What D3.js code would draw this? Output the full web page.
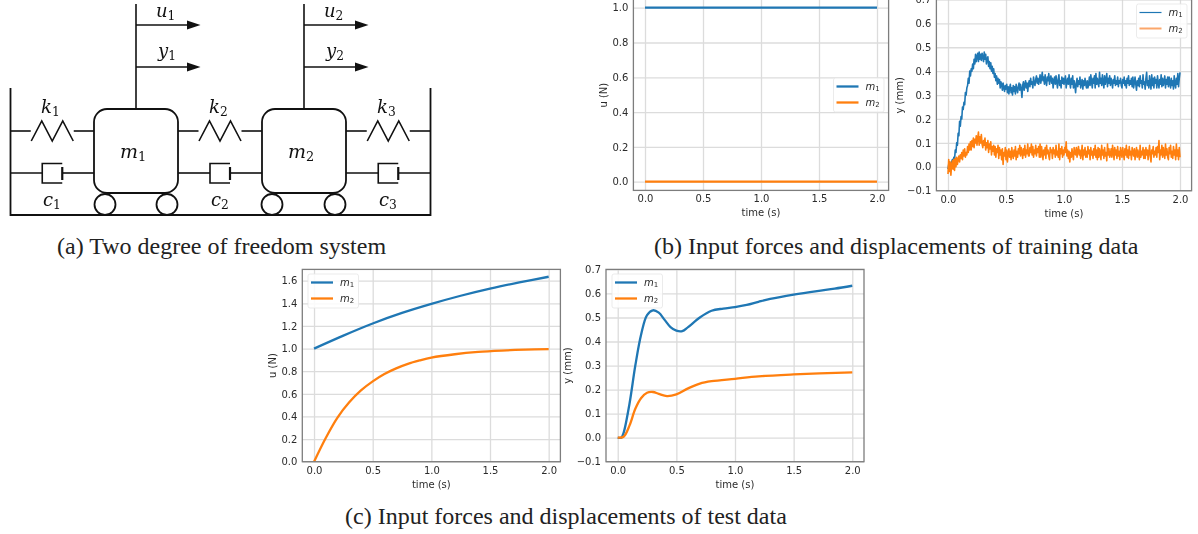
<!DOCTYPE html>
<html>
<head>
<meta charset="utf-8">
<script src="https://cdn.jsdelivr.net/npm/d3@7"></script>
<style>
  html, body { margin: 0; background: #fff; }
  svg { display: block; }
  .soft { filter: blur(0.55px); }
</style>
</head>
<body>
<svg id="fig" width="1198" height="534"></svg>
<script>
const blue = '#1f77b4';
const orange = '#ff7f0e';

const timeTicks = [0, 0.5, 1, 1.5, 2];
const trainForceTicks = [0, 0.2, 0.4, 0.6, 0.8, 1];
const testForceTicks = [0, 0.2, 0.4, 0.6, 0.8, 1, 1.2, 1.4, 1.6];
const dispTicks = [-0.1, 0, 0.1, 0.2, 0.3, 0.4, 0.5, 0.6, 0.7];

// (b) training inputs
const trainForceTime = [0, 2];
const trainForceM1 = [1, 1];
const trainForceM2 = [0, 0];

// (b) training displacements, one reading every 0.00625 s
const trainDispM1 = [
  -.01,.01,.02,-.005,.0,.02,.03,.015,.04,.03,.07,.06,.10,.09,.14,.13,
  .19,.17,.21,.20,.25,.24,.27,.26,.31,.30,.33,.34,.37,.35,.40,.38,
  .41,.40,.43,.41,.45,.43,.47,.44,.46,.475,.44,.48,.45,.47,.445,.475,
  .46,.44,.48,.45,.47,.43,.45,.46,.42,.44,.41,.435,.40,.42,.39,.41,
  .375,.39,.36,.38,.345,.37,.35,.365,.33,.355,.345,.32,.35,.33,.315,.34,
  .325,.345,.31,.335,.305,.33,.345,.31,.33,.30,.34,.315,.335,.305,.345,.325,
  .31,.335,.35,.32,.345,.325,.29,.34,.355,.32,.34,.36,.33,.35,.315,.345,
  .36,.335,.37,.345,.355,.33,.375,.35,.34,.365,.38,.35,.37,.345,.36,.385,
  .35,.37,.395,.36,.375,.345,.385,.355,.34,.375,.36,.39,.345,.37,.38,.35,
  .37,.33,.36,.375,.345,.38,.355,.33,.365,.385,.34,.36,.33,.375,.35,.37,
  .345,.365,.38,.33,.355,.37,.345,.385,.35,.33,.37,.345,.38,.33,.36,.34,
  .31,.35,.37,.335,.36,.345,.375,.33,.35,.365,.325,.36,.34,.37,.345,.33,
  .36,.33,.345,.375,.34,.385,.355,.33,.37,.35,.38,.33,.39,.345,.37,.35,
  .335,.395,.35,.37,.34,.385,.355,.33,.38,.345,.365,.39,.335,.37,.35,.38,
  .34,.37,.355,.33,.365,.35,.38,.34,.36,.345,.375,.335,.36,.35,.37,.34,
  .33,.365,.35,.375,.34,.36,.33,.37,.35,.38,.34,.36,.345,.37,.335,.375,
  .33,.35,.375,.345,.32,.36,.34,.37,.335,.38,.35,.36,.33,.385,.345,.355,
  .325,.37,.395,.34,.36,.33,.38,.35,.325,.385,.34,.37,.33,.375,.35,.365,
  .33,.38,.35,.33,.365,.345,.385,.335,.37,.34,.355,.38,.33,.365,.345,.375,
  .335,.375,.35,.33,.37,.34,.36,.325,.38,.345,.33,.37,.345,.39,.335,.37,
  .395
];
const trainDispM2 = [
  -.03,.03,-.02,.02,-.035,.01,.025,-.01,.03,-.015,.035,.0,.04,.01,.03,.045,
  .02,.05,.035,.06,.03,.07,.045,.075,.04,.06,.05,.085,.06,.095,.07,.105,
  .07,.11,.085,.12,.08,.115,.10,.13,.09,.12,.145,.09,.125,.10,.135,.095,
  .08,.11,.09,.12,.07,.10,.08,.11,.06,.095,.075,.105,.05,.085,.065,.09,
  .05,.085,.04,.075,.06,.09,.035,.08,.05,.07,.03,.075,.01,.06,.045,.08,
  .03,.07,.02,.055,.075,.04,.065,.03,.08,.05,.035,.07,.045,.085,.03,.065,
  .04,.075,.055,.09,.045,.08,.06,.035,.075,.05,.09,.04,.07,.055,.095,.045,
  .045,.08,.06,.095,.05,.085,.04,.07,.055,.09,.045,.075,.06,.085,.04,.095,
  .04,.085,.06,.03,.07,.05,.08,.035,.09,.055,.07,.045,.03,.08,.06,.07,
  .035,.08,.055,.07,.04,.09,.05,.065,.04,.095,.03,.075,.055,.085,.04,.07,
  .05,.08,.06,.105,.045,.07,.035,.065,.02,.06,.04,.075,.05,.03,.08,.055,
  .05,.08,.04,.065,.085,.05,.07,.035,.055,.09,.03,.07,.05,.08,.04,.065,
  .04,.085,.055,.07,.03,.08,.05,.065,.035,.075,.05,.09,.04,.07,.03,.08,
  .04,.075,.055,.03,.09,.05,.07,.035,.08,.045,.06,.025,.095,.05,.075,.04,
  .05,.075,.04,.09,.06,.03,.08,.05,.07,.035,.085,.045,.065,.03,.08,.055,
  .04,.08,.055,.03,.075,.05,.09,.04,.07,.035,.085,.05,.065,.03,.08,.06,
  .045,.075,.03,.06,.08,.04,.07,.05,.03,.09,.04,.065,.05,.08,.035,.07,
  .035,.08,.05,.07,.03,.06,.09,.045,.02,.07,.055,.085,.04,.065,.05,.08,
  .04,.085,.06,.11,.03,.07,.05,.09,.04,.08,.055,.035,.095,.05,.075,.04,
  .03,.08,.055,.09,.04,.065,.035,.085,.05,.07,.03,.095,.045,.07,.03,.08,
  .04
];
const trainDispTime = trainDispM1.map((d, i) => i * 0.00625);

// (c) test inputs
const testForceTimeM1 = [0, 0.25, 0.5, 0.75, 1, 1.25, 1.5, 1.75, 2];
const testForceM1 = [1, 1.115, 1.222, 1.315, 1.395, 1.467, 1.53, 1.585, 1.635];
const testForceTimeM2 = [0, 0.1, 0.2, 0.3, 0.4, 0.5, 0.6, 0.7, 0.8, 0.9, 1, 1.2, 1.4, 1.6, 1.8, 2];
const testForceM2 = [0, 0.21, 0.39, 0.525, 0.63, 0.71, 0.775, 0.825, 0.865, 0.895, 0.92, 0.95, 0.97, 0.982, 0.99, 0.995];

// (c) test displacements
const testDispTimeM1 = [0, .03, .05, .1, .15, .2, .25, .3, .35, .4, .45, .5, .55, .6, .7, .8, .9, 1, 1.1, 1.2, 1.3, 1.5, 1.7, 1.85, 2];
const testDispM1 = [0, 0, .02, .14, .3, .43, .51, .53, .52, .49, .46, .445, .443, .46, .5, .528, .537, .543, .552, .565, .577, .595, .61, .62, .632];
const testDispTimeM2 = [0, .05, .1, .15, .2, .25, .3, .35, .42, .5, .6, .7, .8, 1, 1.2, 1.5, 2];
const testDispM2 = [0, .004, .05, .12, .165, .187, .19, .182, .173, .18, .205, .225, .235, .245, .255, .263, .272];

const svg = d3.select('#fig');

// one matplotlib style panel
const panel = (o) => {
  const g = svg.append('g').attr('class', 'soft');
  const x = d3.scaleLinear().domain([-0.1, 2.1]).range([o.left, o.right]);
  const y = d3.scaleLinear().domain(o.yDomain).range([o.bottom, o.top]);
  const h = o.bottom - o.top;
  const w = o.right - o.left;

  const xAxis = g.append('g')
    .attr('transform', `translate(0,${o.bottom})`)
    .call(d3.axisBottom(x).tickValues(timeTicks).tickFormat(d3.format('.1f')).tickSize(-h).tickPadding(5));
  const yAxis = g.append('g')
    .attr('transform', `translate(${o.left},0)`)
    .call(d3.axisLeft(y).tickValues(o.yTicks).tickFormat(d => d3.format('.1f')(d).replace('-', '\u2212')).tickSize(-w).tickPadding(5));

  [xAxis, yAxis].forEach(a => {
    a.select('.domain').remove();
    a.selectAll('line').attr('stroke', '#dcdcdc').attr('stroke-width', 1.3);
    a.selectAll('text')
      .attr('font-family', 'DejaVu Sans')
      .attr('font-size', 10)
      .attr('fill', '#2b2b2b');
  });

  o.series.forEach(s => {
    g.append('path')
      .datum(s.time.map((t, i) => [t, s.values[i]]))
      .attr('fill', 'none')
      .attr('stroke', s.color)
      .attr('stroke-width', o.lineWidth)
      .attr('stroke-linejoin', 'round')
      .attr('d', d3.line().x(d => x(d[0])).y(d => y(d[1])).curve(o.curve));
  });

  g.append('rect')
    .attr('x', o.left).attr('y', o.top).attr('width', w).attr('height', h)
    .attr('fill', 'none').attr('stroke', '#7d7d7d').attr('stroke-width', 1.3);

  g.append('text')
    .attr('x', (o.left + o.right) / 2).attr('y', o.bottom + 26)
    .attr('text-anchor', 'middle')
    .attr('font-family', 'DejaVu Sans').attr('font-size', 10).attr('fill', '#2b2b2b')
    .text('time (s)');
  g.append('text')
    .attr('transform', `translate(${o.left - o.yLabelGap},${(Math.max(o.top, 0) + o.bottom) / 2}) rotate(-90)`)
    .attr('text-anchor', 'middle')
    .attr('font-family', 'DejaVu Sans').attr('font-size', 10).attr('fill', '#2b2b2b')
    .text(o.yLabel);

  // legend
  const leg = o.legend;
  g.append('rect')
    .attr('x', leg.x).attr('y', leg.y).attr('width', 50.5).attr('height', 34).attr('rx', 2)
    .attr('fill', '#fff').attr('fill-opacity', 0.85).attr('stroke', '#e6e6e6').attr('stroke-width', 0.8);
  [['1', blue, leg.w1], ['2', leg.c2 || orange, leg.w2]].forEach((e, i) => {
    const ey = leg.y + 8.5 + i * 16;
    g.append('line')
      .attr('x1', leg.x + 3).attr('x2', leg.x + 25)
      .attr('y1', ey).attr('y2', ey)
      .attr('stroke', e[1]).attr('stroke-width', e[2]);
    const t = g.append('text')
      .attr('x', leg.x + 32).attr('y', ey + 3)
      .attr('font-family', 'DejaVu Sans').attr('font-size', 10).attr('fill', '#2b2b2b');
    t.append('tspan').attr('font-style', 'italic').text('m');
    t.append('tspan').attr('font-size', 7).attr('dy', 1.6).text(e[0]);
  });
};

panel({
  left: 633.4, right: 888.6, top: -1, bottom: 190.4,
  yDomain: [-0.05, 1.05], yTicks: trainForceTicks, yLabel: 'u (N)', yLabelGap: 26,
  lineWidth: 2.3, curve: d3.curveLinear,
  series: [
    { time: trainForceTime, values: trainForceM1, color: blue },
    { time: trainForceTime, values: trainForceM2, color: orange }
  ],
  legend: { x: 833.5, y: 78, w1: 2.3, w2: 2.3 }
});

panel({
  left: 936.4, right: 1191.6, top: -0.6, bottom: 190.7,
  yDomain: [-0.1, 0.7], yTicks: dispTicks, yLabel: 'y (mm)', yLabelGap: 33,
  lineWidth: 1.6, curve: d3.curveLinear,
  series: [
    { time: trainDispTime, values: trainDispM1, color: blue },
    { time: trainDispTime, values: trainDispM2, color: orange }
  ],
  legend: { x: 1136.5, y: 4, w1: 1.2, w2: 2, c2: '#fba66a' }
});

panel({
  left: 302.3, right: 560.4, top: 269.4, bottom: 461.7,
  yDomain: [0, 1.7], yTicks: testForceTicks, yLabel: 'u (N)', yLabelGap: 26,
  lineWidth: 2.3, curve: d3.curveCatmullRom,
  series: [
    { time: testForceTimeM1, values: testForceM1, color: blue },
    { time: testForceTimeM2, values: testForceM2, color: orange }
  ],
  legend: { x: 308, y: 274, w1: 2.3, w2: 2.3 }
});

panel({
  left: 606, right: 864, top: 269.4, bottom: 461.7,
  yDomain: [-0.1, 0.7], yTicks: dispTicks, yLabel: 'y (mm)', yLabelGap: 35,
  lineWidth: 2.3, curve: d3.curveCatmullRom,
  series: [
    { time: testDispTimeM1, values: testDispM1, color: blue },
    { time: testDispTimeM2, values: testDispM2, color: orange }
  ],
  legend: { x: 612, y: 274, w1: 2.3, w2: 2.3 }
});

// (a) mass spring damper sketch
const sketch = svg.append('g').attr('class', 'soft')
  .attr('fill', 'none').attr('stroke', '#111').attr('stroke-width', 1.6);
const line = d3.line();

const wallLeft = 10.5, wallRight = 430.5, wallTop = 88, floorY = 215;
const massSize = 84;
const massLefts = [94, 262];
const wheelCentres = [105, 167, 272, 335];
const gapLefts = [10.5, 178, 346];
const gapRights = [94, 262, 430.5];
const gapNames = ['1', '2', '3'];
const stemX = [136, 304];
const signalRows = [25, 67];

sketch.append('path').attr('stroke-width', 1.8).attr('d', line([
  [wallLeft, wallTop], [wallLeft, floorY], [wallRight, floorY], [wallRight, wallTop]
]));

massLefts.forEach(m => {
  sketch.append('rect')
    .attr('x', m).attr('y', 109).attr('width', massSize).attr('height', massSize).attr('rx', 13)
    .attr('fill', '#fff').attr('stroke-width', 1.8);
});

wheelCentres.forEach(c => {
  sketch.append('circle').attr('cx', c).attr('cy', 204.5).attr('r', 10.5).attr('fill', '#fff').attr('stroke-width', 1.8);
});

gapLefts.forEach((a, i) => {
  const b = gapRights[i];
  const mid = (a + b) / 2;
  sketch.append('path').attr('d', line([[a, 131], [mid - 21.5, 131]]));
  sketch.append('path').attr('d', line([[mid + 21.5, 131], [b, 131]]));
  sketch.append('path').attr('stroke-linejoin', 'miter').attr('d', line([
    [mid - 21, 141], [mid - 10.5, 121], [mid, 141], [mid + 10.5, 121], [mid + 21, 141]
  ]));
  sketch.append('path').attr('d', line([[a, 173], [mid - 10, 173]]));
  sketch.append('path').attr('d', line([[mid + 10, 173], [b, 173]]));
  sketch.append('path').attr('d', line([
    [mid + 10, 163.5], [mid - 10, 163.5], [mid - 10, 183], [mid + 10, 183]
  ]));
  sketch.append('path').attr('stroke-width', 2.2).attr('d', line([[mid + 10, 167], [mid + 10, 180]]));
});

stemX.forEach(sx => {
  sketch.append('path').attr('d', line([[sx, 4], [sx, 109]]));
  signalRows.forEach(ry => {
    sketch.append('path').attr('d', line([[sx, ry], [sx + 52, ry]]));
    sketch.append('path').attr('fill', '#111').attr('stroke', 'none')
      .attr('d', line([[sx + 64.5, ry], [sx + 51, ry - 4.5], [sx + 51, ry + 4.5]]));
  });
});

const mathLabel = (px, py, sym, sub, size) => {
  const t = svg.append('text')
    .attr('class', 'soft')
    .attr('x', px).attr('y', py)
    .attr('font-family', 'DejaVu Serif').attr('font-size', size).attr('fill', '#111');
  t.append('tspan').attr('font-style', 'italic').text(sym);
  t.append('tspan').attr('font-size', size * 0.68).attr('dy', 3).text(sub);
};

stemX.forEach((sx, i) => {
  mathLabel(sx + 20, 16.5, 'u', String(i + 1), 18);
  mathLabel(sx + 22, 57, 'y', String(i + 1), 18);
});
massLefts.forEach((m, i) => mathLabel(m + 26, 158, 'm', String(i + 1), 19));
[41, 209, 377].forEach((kx, i) => {
  mathLabel(kx, 113, 'k', gapNames[i], 18);
  mathLabel(kx + 2, 206, 'c', gapNames[i], 18);
});

// captions
const captions = [
  ['(a) Two degree of freedom system', 57, 254],
  ['(b) Input forces and displacements of training data', 654, 254],
  ['(c) Input forces and displacements of test data', 345, 524]
];
svg.selectAll('.caption')
  .data(captions)
  .enter()
  .append('text')
  .attr('class', 'caption')
  .attr('x', d => d[1])
  .attr('y', d => d[2])
  .attr('font-family', 'Liberation Serif')
  .attr('font-size', 24)
  .attr('fill', '#222')
  .text(d => d[0]);
</script>
</body>
</html>
